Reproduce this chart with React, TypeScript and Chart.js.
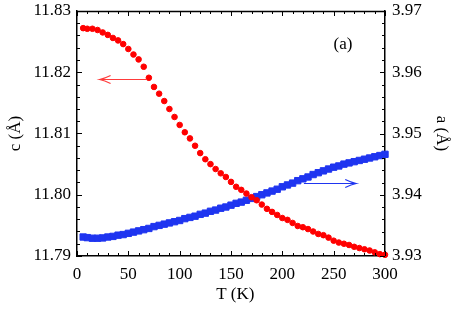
import { useEffect, useRef } from "react";
import { Chart, registerables } from "chart.js";

Chart.register(...registerables);

// Temperature (K)
const temperatures = [
  6, 10, 15, 20, 25, 30, 35, 40, 45, 50, 55, 60, 65, 70, 75, 80, 85, 90, 95, 100,
  105, 110, 115, 120, 125, 130, 135, 140, 145, 150, 155, 160, 165, 170, 175, 180, 185, 190, 195, 200,
  205, 210, 215, 220, 225, 230, 235, 240, 245, 250, 255, 260, 265, 270, 275, 280, 285, 290, 295, 300,
];

// c lattice parameter (Å), left axis
const cValues = [
  11.8272, 11.8271, 11.8271, 11.8269, 11.8265, 11.8261, 11.8256, 11.8252, 11.8246, 11.8238,
  11.8229, 11.8221, 11.8209, 11.8191, 11.8176, 11.8165, 11.8153, 11.814, 11.8127, 11.8114,
  11.8102, 11.8092, 11.808, 11.8068, 11.8058, 11.805, 11.8042, 11.8035, 11.8029, 11.8021,
  11.8013, 11.8008, 11.8002, 11.7996, 11.7991, 11.7984, 11.7977, 11.7972, 11.7967, 11.7962,
  11.7959, 11.7954, 11.7949, 11.7947, 11.7944, 11.794, 11.7936, 11.7934, 11.793, 11.7925,
  11.7922, 11.792, 11.7918, 11.7915, 11.7913, 11.7911, 11.7909, 11.7906, 11.7903, 11.7902,
];

// a lattice parameter (Å), right axis
const aValues = [
  3.9331, 3.933, 3.9329, 3.9329, 3.93295, 3.9331, 3.9332, 3.9334, 3.9335, 3.9337,
  3.9339, 3.9341, 3.9343, 3.9345, 3.9348, 3.935, 3.9352, 3.9354, 3.9356, 3.9358,
  3.9361, 3.9363, 3.9365, 3.9368, 3.937, 3.9373, 3.9375, 3.9378, 3.938, 3.9383,
  3.9386, 3.9388, 3.9391, 3.9394, 3.9397, 3.94, 3.9403, 3.9406, 3.9409, 3.9413,
  3.9416, 3.9419, 3.9423, 3.9426, 3.9429, 3.9433, 3.9436, 3.9439, 3.9442, 3.9445,
  3.9447, 3.945, 3.9452, 3.9454, 3.9456, 3.9458, 3.946, 3.9462, 3.9464, 3.9466,
];

const xTicks = [0, 50, 100, 150, 200, 250, 300];
const cTicks = [11.79, 11.8, 11.81, 11.82, 11.83];
const aTicks = [3.93, 3.94, 3.95, 3.96, 3.97];

// Annotations in data coordinates
const cArrow = { fromT: 68, toT: 22, value: 11.8189 }; // points left, toward c axis
const aArrow = { fromT: 221, toT: 272, value: 3.942 }; // points right, toward a axis
const panelLabel = { text: "(a)", t: 259, c: 11.8245 };

const FONT = "'Liberation Serif', 'Times New Roman', serif";
const RED = "#ff0000";
const BLUE = "#1f35f0";

const probe = {
  id: "probe",
  afterDraw(chart: any) {
    const ctx = chart.ctx;
    const sx = chart.scales.x;
    const sy = chart.scales.y;
    const sy2 = chart.scales.y2;
    const L = sx.getPixelForValue(xTicks[0]);
    const R = sx.getPixelForValue(xTicks[xTicks.length - 1]);
    const T = sy.getPixelForValue(cTicks[cTicks.length - 1]);
    const B = sy.getPixelForValue(cTicks[0]);

    ctx.save();
    ctx.strokeStyle = "#000000";
    ctx.lineWidth = 1.5;
    ctx.beginPath();
    ctx.moveTo(L - 0.75, Math.round(T) + 0.5);
    ctx.lineTo(R + 0.75, Math.round(T) + 0.5);
    ctx.stroke();
    ctx.lineWidth = 1;
    ctx.beginPath();
    const each = (vals: number[], fn: (v: number, len: number) => void) => {
      for (let i = 0; i < vals.length; i++) {
        fn(vals[i], 5);
        if (i < vals.length - 1) {
          const step = (vals[i + 1] - vals[i]) / 5;
          for (let k = 1; k < 5; k++) fn(vals[i] + k * step, 3);
        }
      }
    };
    each(xTicks, (v, len) => {
      const px = Math.round(sx.getPixelForValue(v)) + 0.5;
      ctx.moveTo(px, B);
      ctx.lineTo(px, B - len);
      ctx.moveTo(px, T);
      ctx.lineTo(px, T + len);
    });
    each(cTicks, (v, len) => {
      const py = Math.round(sy.getPixelForValue(v)) + 0.5;
      ctx.moveTo(L, py);
      ctx.lineTo(L + len, py);
    });
    each(aTicks, (v, len) => {
      const py = Math.round(sy2.getPixelForValue(v)) + 0.5;
      ctx.moveTo(R, py);
      ctx.lineTo(R - len, py);
    });
    ctx.stroke();
    ctx.restore();

    const drawArrow = (x0: number, x1: number, py: number, color: string) => {
      const dir = x1 > x0 ? 1 : -1;
      ctx.save();
      ctx.strokeStyle = color;
      ctx.lineWidth = 1.2;
      ctx.beginPath();
      ctx.moveTo(x0, py);
      ctx.lineTo(x1, py);
      ctx.moveTo(x1 - dir * 11, py - 4);
      ctx.quadraticCurveTo(x1 - dir * 5, py - 1, x1, py);
      ctx.quadraticCurveTo(x1 - dir * 5, py + 1, x1 - dir * 11, py + 4);
      ctx.stroke();
      ctx.restore();
    };
    const ry = Math.round(sy.getPixelForValue(cArrow.value)) + 0.5;
    drawArrow(sx.getPixelForValue(cArrow.fromT), sx.getPixelForValue(cArrow.toT), ry, "#ff3b3b");
    const by = Math.round(sy2.getPixelForValue(aArrow.value)) + 0.5;
    drawArrow(sx.getPixelForValue(aArrow.fromT), sx.getPixelForValue(aArrow.toT), by, BLUE);

    ctx.save();
    ctx.fillStyle = "#000";
    ctx.font = `17px ${FONT}`;
    ctx.textAlign = "center";
    ctx.textBaseline = "middle";
    ctx.fillText(panelLabel.text, sx.getPixelForValue(panelLabel.t), sy.getPixelForValue(panelLabel.c));
    ctx.restore();
  },
};

export default function App() {
  const ref = useRef<HTMLCanvasElement | null>(null);
  useEffect(() => {
    document.body.style.margin = "0";
    const canvas = ref.current;
    if (!canvas) return;
    const tickFont = { family: FONT, size: 17 };
    const border = { display: true, color: "#000", width: 1.5 };
    const chart = new Chart(canvas, {
      type: "scatter",
      data: {
        datasets: [
          {
            data: temperatures.map((t, i) => ({ x: t, y: cValues[i] })),
            yAxisID: "y",
            backgroundColor: RED,
            borderColor: RED,
            pointRadius: 2.8,
            clip: false,
          } as any,
          {
            data: temperatures.map((t, i) => ({ x: t, y: aValues[i] })),
            yAxisID: "y2",
            backgroundColor: BLUE,
            borderColor: BLUE,
            pointStyle: "rect",
            pointRadius: 4.5,
            clip: false,
          } as any,
        ],
      },
      options: {
        animation: false,
        responsive: false,
        layout: { padding: { top: 11, left: 0, right: 0, bottom: 0 } },
        plugins: { legend: { display: false }, tooltip: { enabled: false } },
        scales: {
          x: {
            type: "linear", position: "bottom", min: 0, max: 300,
            grid: { display: false, drawTicks: false }, border,
            afterBuildTicks: (s: any) => { s.ticks = xTicks.map((value) => ({ value })); },
            afterFit: (s: any) => { s.height = 53; },
            ticks: { font: tickFont, color: "#000", padding: 8, maxRotation: 0, autoSkip: false },
            title: { display: true, text: "  T (K)", font: tickFont, color: "#000", padding: { top: 0, bottom: 4 } },
          },
          y: {
            type: "linear", position: "left", min: 11.79, max: 11.83,
            grid: { display: false, drawTicks: false }, border,
            afterBuildTicks: (s: any) => { s.ticks = cTicks.map((value) => ({ value })); },
            afterFit: (s: any) => { s.width = 77; s.paddingTop = 0; s.paddingBottom = 0; },
            ticks: { font: tickFont, color: "#000", padding: 6, autoSkip: false, callback: (v: any) => Number(v).toFixed(2) },
            title: { display: true, text: "c (Å)", font: tickFont, color: "#000", padding: { top: 5, bottom: 0 } },
          },
          y2: {
            type: "linear", position: "right", min: 3.93, max: 3.97,
            grid: { display: false, drawTicks: false }, border,
            afterBuildTicks: (s: any) => { s.ticks = aTicks.map((value) => ({ value })); },
            afterFit: (s: any) => { s.width = 72; s.paddingTop = 0; s.paddingBottom = 0; },
            ticks: { font: tickFont, color: "#000", padding: 7, autoSkip: false, callback: (v: any) => Number(v).toFixed(2) },
            title: { display: true, text: "a (Å)", font: tickFont, color: "#000", padding: { top: 5, bottom: 0 } },
          },
        },
      },
      plugins: [probe],
    } as any);
    return () => chart.destroy();
  }, []);
  return (
    <div style={{ width: 457, height: 309 }}>
      <canvas ref={ref} width={457} height={309} style={{ display: "block" }} />
    </div>
  );
}
